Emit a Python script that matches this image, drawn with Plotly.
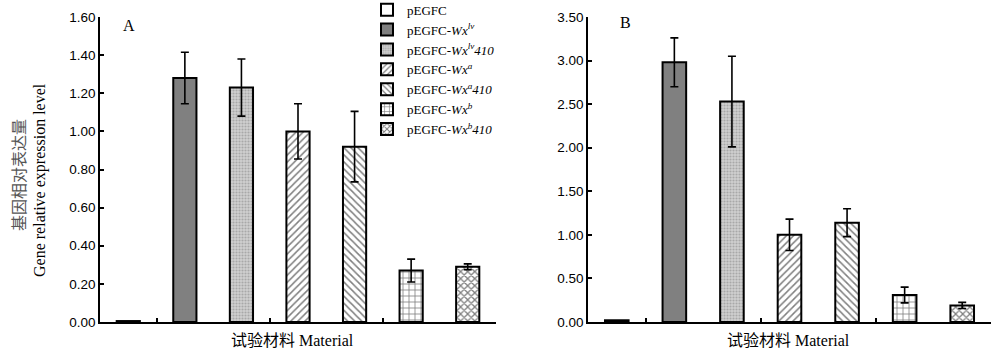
import plotly.graph_objects as go

materials = ["pEGFC", "pEGFC-<i>Wx</i><sup><i>lv</i></sup>", "pEGFC-<i>Wx</i><sup><i>lv</i></sup><i>410</i>",
             "pEGFC-<i>Wx</i><sup><i>a</i></sup>", "pEGFC-<i>Wx</i><sup><i>a</i></sup><i>410</i>",
             "pEGFC-<i>Wx</i><sup><i>b</i></sup>", "pEGFC-<i>Wx</i><sup><i>b</i></sup><i>410</i>"]
values_a = [0.005, 1.28, 1.23, 1.00, 0.92, 0.27, 0.29]
errors_a = [0.0, 0.135, 0.15, 0.145, 0.185, 0.06, 0.015]
values_b = [0.02, 2.98, 2.53, 1.00, 1.14, 0.31, 0.19]
errors_b = [0.0, 0.28, 0.52, 0.18, 0.16, 0.09, 0.035]
yticks_a = [0.0, 0.2, 0.4, 0.6, 0.8, 1.0, 1.2, 1.4, 1.6]
yticks_b = [0.0, 0.5, 1.0, 1.5, 2.0, 2.5, 3.0, 3.5]

styles = [
    dict(color="white", pattern=dict(shape="")),
    dict(color="#808080", pattern=dict(shape="")),
    dict(color="#d0d0d0", pattern=dict(shape=".", fgcolor="#808080", size=3, solidity=0.4)),
    dict(color="white", pattern=dict(shape="/", fgcolor="black", size=5, solidity=0.3)),
    dict(color="white", pattern=dict(shape="\\", fgcolor="black", size=5, solidity=0.3)),
    dict(color="white", pattern=dict(shape="+", fgcolor="black", size=6, solidity=0.25)),
    dict(color="white", pattern=dict(shape="x", fgcolor="black", size=5, solidity=0.45)),
]

fig = go.Figure()
for panel, (vals, errs) in enumerate([(values_a, errors_a), (values_b, errors_b)]):
    for i, name in enumerate(materials):
        st = styles[i]
        fig.add_trace(go.Bar(
            x=[i], y=[vals[i]], name=name, width=0.41,
            xaxis="x" if panel == 0 else "x2", yaxis="y" if panel == 0 else "y2",
            showlegend=(panel == 0),
            marker=dict(color=st["color"], pattern=st["pattern"], line=dict(color="black", width=2)),
            error_y=dict(type="data", array=[errs[i]], visible=errs[i] > 0,
                         color="black", thickness=1.6, width=4),
        ))

axis_common = dict(showline=True, linecolor="black", linewidth=1.5, showgrid=False, zeroline=False,
                   ticks="inside", ticklen=4, tickcolor="black", tickwidth=1.5, automargin=False)
ydom = [30 / 352, 335 / 352]
fig.update_layout(
    width=1000, height=352, margin=dict(l=0, r=0, t=0, b=0, autoexpand=False),
    paper_bgcolor="white", plot_bgcolor="white", barmode="overlay",
    font=dict(family="Liberation Sans", size=13.5, color="black"),
    xaxis=dict(domain=[0.100, 0.496], range=[-0.5, 6.5], tickvals=[0.5, 2.5, 4.5, 6.5],
               showticklabels=False, anchor="y", **axis_common),
    yaxis=dict(domain=ydom, range=[0, 1.6], tickvals=yticks_a, tickformat=".2f",
               anchor="x", **axis_common),
    xaxis2=dict(domain=[0.588, 0.991], range=[-0.5, 6.5], tickvals=[0.5, 2.5, 4.5, 6.5],
                showticklabels=False, anchor="y2", **axis_common),
    yaxis2=dict(domain=ydom, range=[0, 3.5], tickvals=yticks_b, tickformat=".2f",
                anchor="x2", **axis_common),
    legend=dict(x=0.367, y=1.015, xanchor="left", yanchor="top", bgcolor="rgba(0,0,0,0)",
                font=dict(family="Liberation Serif", size=13, color="black"),
                tracegroupgap=0, itemwidth=30),
)

annos = [
    dict(text="基因相对表达量", x=18, y=175, textangle=-90,
         font=dict(family="Noto Sans CJK SC", size=16, color="#555555")),
    dict(text="Gene relative expression level", x=40, y=180, textangle=-90,
         font=dict(family="Liberation Serif", size=16, color="black")),
    dict(text="试验材料 Material", x=292, y=340,
         font=dict(family="Liberation Serif, Noto Sans CJK SC", size=16, color="black")),
    dict(text="试验材料 Material", x=788, y=340,
         font=dict(family="Liberation Serif, Noto Sans CJK SC", size=16, color="black")),
    dict(text="A", x=129, y=25, font=dict(family="Liberation Serif", size=16, color="black")),
    dict(text="B", x=625, y=22, font=dict(family="Liberation Serif", size=16, color="black")),
]
for a in annos:
    fig.add_annotation(text=a["text"], x=a["x"] / 1000, y=1 - a["y"] / 352, xref="paper", yref="paper",
                       showarrow=False, textangle=a.get("textangle", 0), font=a["font"],
                       xanchor="center", yanchor="middle")

fig.write_html("out.html")
